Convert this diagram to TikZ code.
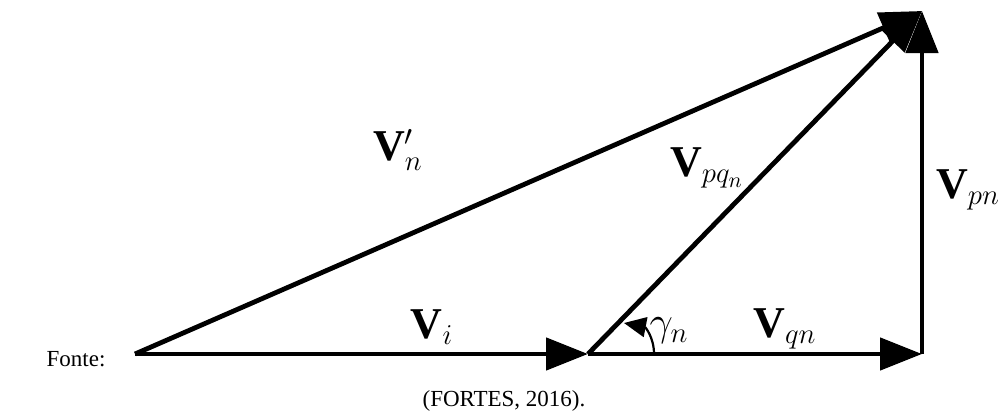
\documentclass[tikz,border=0pt]{standalone}
\usepackage{amsmath, amssymb}
\usepackage{fontspec}
\setmainfont{Liberation Serif}
\usetikzlibrary{arrows.meta}

\begin{document}
\begin{tikzpicture}[x=0.5pt,y=0.5pt,
    vec/.style={line width=2.4pt, -{Triangle[length=21pt,width=16pt]}},
    angarrow/.style={line width=1.1pt, -{Triangle[length=11pt,width=10pt]}},
    lbl/.style={font=\fontsize{22}{26}\selectfont, inner sep=0pt},
    src/.style={font=\fontsize{11.5}{14}\selectfont, inner sep=0pt}]
  \useasboundingbox (0,0) rectangle (1008,419);
  \coordinate (O) at (135,65);
  \coordinate (A) at (588,65);
  \coordinate (B) at (922,65);
  \coordinate (P) at (922,408);
  \draw[vec] (O) -- (A);
  \draw[vec] (A) -- (B);
  \draw[vec] (B) -- (P);
  \draw[vec] (A) -- (P);
  \draw[vec] (O) -- (P);
  \coordinate (g0) at (654,65);
  \coordinate (g1) at (624,96);
  \draw[angarrow] (g0) .. controls (654,82) and (645,92) .. (g1);
  \node[lbl] (vn)  at (398,269) {$\mathbf{V}'_n$};
  \node[lbl] (vpq) at (707,251) {$\mathbf{V}_{pq_n}$};
  \node[lbl] (vpn) at (968,229) {$\mathbf{V}_{pn}$};
  \node[lbl] (vi)  at (432,92)  {$\mathbf{V}_i$};
  \node[lbl] (gam) at (669,88)  {$\gamma_n$};
  \node[lbl] (vqn) at (785,90)  {$\mathbf{V}_{qn}$};
  \node[src] (fonte) at (76,60) {Fonte:};
  \node[src] (ref) at (504,18) {(FORTES, 2016).};
\end{tikzpicture}
\end{document}
